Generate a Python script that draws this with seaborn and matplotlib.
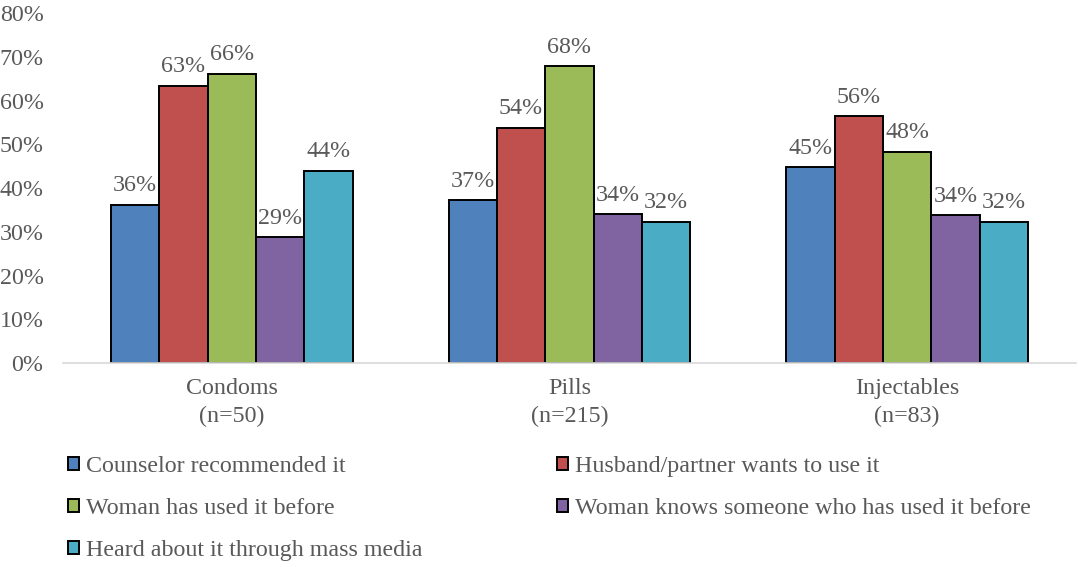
import numpy as np
import pandas as pd
import matplotlib
matplotlib.use("Agg")
import matplotlib.pyplot as plt
import seaborn as sns

methods = ["Condoms\n(n=50)", "Pills\n(n=215)", "Injectables\n(n=83)"]
reasons = ["Counselor recommended it",
           "Husband/partner wants to use it",
           "Woman has used it before",
           "Woman knows someone who has used it before",
           "Heard about it through mass media"]
counselor = [36.2, 37.2, 44.8]
husband = [63.4, 53.8, 56.5]
used_before = [66.2, 67.9, 48.3]
knows_someone = [28.7, 34.0, 33.8]
mass_media = [44.0, 32.3, 32.3]
colors = ["#4F81BD", "#C0504D", "#9BBB59", "#8064A2", "#4BACC6"]

series = [counselor, husband, used_before, knows_someone, mass_media]
rows = []
for r, vals in zip(reasons, series):
    for m, v in zip(methods, vals):
        rows.append({"method": m, "reason": r, "value": v})
df = pd.DataFrame(rows)

sns.set_style("white")
plt.rcParams['font.family'] = ['Liberation Serif', 'DejaVu Serif']
gray = "#595959"
fs = 17.3

fig = plt.figure(figsize=(10.78, 5.67), dpi=100)
ax = fig.add_axes([0.0584, 0.3598, 0.9396, 0.617])

sns.barplot(data=df, x="method", y="value", hue="reason", order=methods,
            hue_order=reasons, palette=colors, edgecolor="black", linewidth=1.4,
            width=0.716, saturation=1, ax=ax, legend=True)

for cont in ax.containers:
    ax.bar_label(cont, labels=[f"{round(b.get_height()):.0f}%" for b in cont],
                 padding=6, fontsize=fs, color=gray)

ax.set_ylim(0, 80)
ax.set_yticks(np.arange(0, 81, 10))
ax.set_yticklabels([f"{t}%" for t in range(0, 81, 10)])
ax.set_xlim(-0.5, 2.5)
ax.set_xlabel("")
ax.set_ylabel("")
ax.tick_params(axis="both", labelsize=fs, colors=gray, length=0)
ax.tick_params(axis="x", pad=11)
ax.tick_params(axis="y", pad=14)
for t in ax.get_xticklabels():
    t.set_linespacing(1.4)
for s in ["top", "right", "left"]:
    ax.spines[s].set_visible(False)
ax.spines["bottom"].set_color("#D9D9D9")
ax.spines["bottom"].set_linewidth(1.2)

handles, labels = ax.get_legend_handles_labels()
ax.get_legend().remove()
order = [0, 2, 4, 1, 3]
leg = fig.legend([handles[i] for i in order], [labels[i] for i in order],
                 ncol=2, loc="upper left", bbox_to_anchor=(0.063, 0.196),
                 frameon=False, fontsize=fs, handlelength=0.45, handleheight=0.45,
                 handletextpad=0.3, columnspacing=5.6, labelspacing=0.88,
                 borderaxespad=0, borderpad=0)
for t in leg.get_texts():
    t.set_color(gray)

fig.savefig("out.png", dpi=100)
